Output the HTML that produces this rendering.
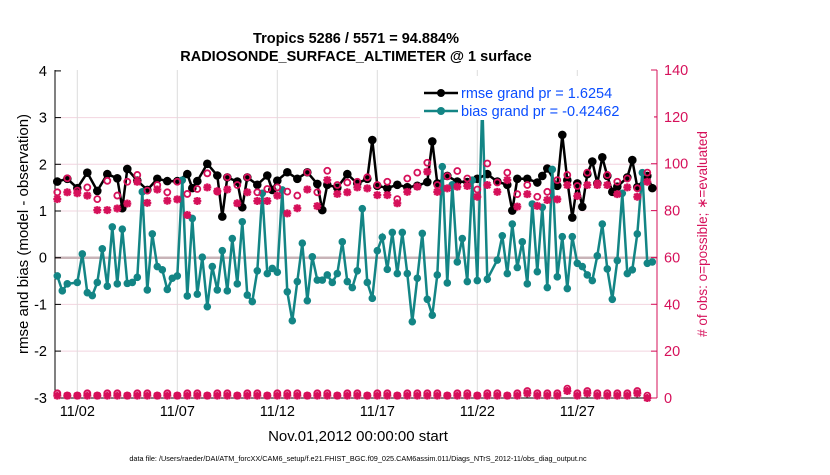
<!DOCTYPE html>
<html><head><meta charset="utf-8"><style>
body{margin:0;background:#fff;width:830px;height:470px;overflow:hidden;font-family:"Liberation Sans",sans-serif}
svg text{font-family:"Liberation Sans",sans-serif}
</style></head><body>
<svg id="chart" width="830" height="470" xmlns="http://www.w3.org/2000/svg">
<text x="356" y="43" text-anchor="middle" font-size="14.5" font-weight="bold">Tropics 5286 / 5571 = 94.884%</text>
<text x="356" y="61" text-anchor="middle" font-size="14.5" font-weight="bold">RADIOSONDE_SURFACE_ALTIMETER @ 1 surface</text>
<text transform="translate(28,234) rotate(-90)" text-anchor="middle" font-size="15">rmse and bias (model - observation)</text>
<text transform="translate(707,234) rotate(-90)" text-anchor="middle" font-size="13.5" fill="#d6105a"># of obs: o=possible; ∗=evaluated</text>
<text x="358" y="441" text-anchor="middle" font-size="15">Nov.01,2012 00:00:00 start</text>
<text x="358" y="461" text-anchor="middle" font-size="7.3">data file: /Users/raeder/DAI/ATM_forcXX/CAM6_setup/f.e21.FHIST_BGC.f09_025.CAM6assim.011/Diags_NTrS_2012-11/obs_diag_output.nc</text>
<g id="grid"></g><g id="axes"></g><g id="series"></g><g id="legend"></g>
</svg>
<script>
const days=[2,7,12,17,22,27];
const dayLabels=["11/02","11/07","11/12","11/17","11/22","11/27"];
const leftTicks=[4,3,2,1,0,-1,-2,-3];
const rightTicks=[0,20,40,60,80,100,120,140];
const N=null;
const bias=[-0.39,-0.71,-0.56,N,-0.53,0.08,-0.75,-0.81,-0.53,0.19,-0.61,0.66,-0.56,0.61,-0.55,-0.53,-0.42,1.41,-0.69,0.51,
-0.19,-0.26,-0.68,-0.44,-0.39,1.66,-0.82,0.84,-0.78,0.01,-1.05,-0.19,-0.69,0.15,-0.71,0.41,-0.56,0.77,-0.8,-0.94,
-0.28,1.38,-0.34,-0.23,-0.31,1.45,-0.73,-1.35,-0.51,0.31,-0.92,0.02,-0.48,-0.48,-0.37,-0.53,-0.34,0.34,-0.51,-0.64,
-0.28,1.05,-0.53,-0.87,0.15,0.44,-0.25,0.54,-0.34,0.54,-0.34,-1.37,-0.44,0.52,-0.89,-1.23,-0.37,1.95,-0.54,1.56,
-0.09,0.41,-0.51,1.66,-0.49,3.34,-0.46,N,-0.05,0.47,-0.34,0.72,-0.21,0.34,-0.56,1.15,-0.3,1.08,-0.64,1.89,
-0.41,0.45,-0.66,0.45,-0.12,-0.19,-0.37,-0.49,0.04,0.72,-0.24,-0.89,-0.06,1.38,-0.34,-0.26,0.51,1.82,-0.12,-0.09];
const rmse=[1.63,N,1.69,N,1.49,N,1.82,N,1.43,N,1.79,N,1.7,1.06,1.9,N,1.65,N,1.45,N,
1.69,N,1.64,N,1.64,N,1.79,1.49,1.64,N,2.01,N,1.76,0.88,1.72,N,1.63,1.08,1.72,N,
1.56,N,1.76,1.45,1.65,N,1.83,N,1.69,N,1.83,N,1.58,1.02,1.56,N,1.5,N,1.79,N,
1.59,N,1.69,2.52,1.54,N,1.49,N,1.56,N,1.51,N,1.54,N,1.62,2.49,1.59,N,1.75,N,
1.63,N,1.62,N,1.69,N,1.79,N,1.63,N,1.56,1.01,1.69,N,1.69,N,1.61,1.75,1.91,N,
1.54,2.63,1.66,0.86,1.59,1.09,1.79,2.06,1.59,2.15,1.75,1.41,1.52,N,1.72,2.09,1.51,N,1.75,1.49];
const possible=[87.8,93.8,88.5,89.9,84.9,92.7,86.4,92.3,95.2,88.5,90.9,87.8,92.3,87.1,89.2,95.9,88.1,94.2,90.9,94.2,
87.8,89.2,89.9,88.1,86.4,96.3,87.8,97,90.9,92,92.3,94.2,90.9,92.3,84.9,93.7,96.2,100.4,90.9,94.7,
96.9,93.7,89,100.1,92,96.2,87,90.9,85.9,88,93,95.2,90.5,96.2,91.6,95.2,92.3,93.7,89.5,96.2];
const evaluated=[84.9,87.8,87.4,86.4,80.2,80.2,80.9,83,92.3,83.3,89,84.2,84.8,78.1,84.1,89.9,88.3,89,83.1,87.8,
84.1,84.1,86.4,78.8,81,89,81.9,93,87.1,87.8,89.9,89.5,86.6,86.6,83.1,88,90.2,96.6,88,89.5,
90.2,90.5,85.9,90.9,88,93,81.7,87,82,84.5,84.8,90.9,86.2,90.9,90.9,90.9,87,89.9,85.9,92.3];
const lowPossible=[2,1,1,2,1,2,2,1,2,2,1,2,1,2,2,1,2,2,1,2,2,1,2,2,2,1,2,2,1,2,2,1,2,2,1,2,2,2,2,1,2,2,1,2,2,1,2,3,2,2,2,4,2,3,2,2,2,2,3,1];
const lowEvaluated=[1,1,1,1,1,1,1,1,1,1,1,1,1,1,1,1,1,1,1,1,1,1,1,1,1,1,1,1,1,1,1,1,1,1,1,1,1,1,1,1,1,1,1,1,1,1,1,2,1,1,1,3,1,2,1,1,1,1,2,0];

const X0=55,X1=657,YT=70,YB=398;
const dayX=d=>57.3+20*(d-1);
const ix=i=>57.3+5*i;
const yL=v=>257.7-v*46.7;
const yR=v=>YB-v*(YB-YT)/140;
const NS="http://www.w3.org/2000/svg";
function mk(parent,tag,attrs){const e=document.createElementNS(NS,tag);for(const k in attrs)e.setAttribute(k,attrs[k]);document.getElementById(parent).appendChild(e);return e;}

// grid
leftTicks.forEach(t=>{if(t===0||t===4||t===-3)return;const g=mk('grid','line',{x1:X0,x2:X1,y1:yL(t),y2:yL(t),stroke:'#f2d4df','stroke-width':1});

});
days.forEach(d=>{const g=mk('grid','line',{x1:dayX(d),x2:dayX(d),y1:YT,y2:YB,stroke:'#dcdcdc','stroke-width':1});

});
const z=mk('grid','line',{x1:X0,x2:X1,y1:yL(0),y2:yL(0),stroke:'#c8b4b8','stroke-width':2.5});



// axes
let a=mk('axes','line',{x1:X0,x2:X0,y1:YT,y2:YB,stroke:'#000','stroke-width':1});


a=mk('axes','line',{x1:X0,x2:X1,y1:YB,y2:YB,stroke:'#000','stroke-width':1});


a=mk('axes','line',{x1:X1,x2:X1,y1:YT,y2:YB,stroke:'#d6105a','stroke-width':1});


leftTicks.forEach(t=>{const y=yL(t);
 const l=mk('axes','line',{x1:X0,x2:X0+6,y1:y,y2:y,stroke:'#000'});
 const tx=mk('axes','text',{x:X0-8,y:y+5,'text-anchor':'end','font-size':14.5});tx.textContent=t;
 
 });
rightTicks.forEach(t=>{const y=yR(t);
 const l=mk('axes','line',{x1:X1-6,x2:X1,y1:y,y2:y,stroke:'#d6105a'});
 const tx=mk('axes','text',{x:X1+7,y:y+5,'font-size':14.5,fill:'#d6105a'});tx.textContent=t;
 
 });
days.forEach((d,k)=>{const x=dayX(d);
 const l=mk('axes','line',{x1:x,x2:x,y1:YB-6,y2:YB,stroke:'#000'});
 const tx=mk('axes','text',{x:x,y:YB+18,'text-anchor':'middle','font-size':14.5});tx.textContent=dayLabels[k];
 
 });

// series
function linePath(arr,fx,fy){let d='';arr.forEach((v,i)=>{if(v===null)return;d+=(d?'L':'M')+fx(i).toFixed(1)+','+fy(v).toFixed(1);});return d;}
let p=mk('series','path',{d:linePath(rmse,ix,yL),fill:'none',stroke:'#000','stroke-width':2.5});


rmse.forEach((v,i)=>{if(v===null)return;const c=mk('series','circle',{cx:ix(i),cy:yL(v),r:4.3,fill:'#000'});

});
p=mk('series','path',{d:linePath(bias,ix,yL),fill:'none',stroke:'#138585','stroke-width':2.5});


bias.forEach((v,i)=>{if(v===null)return;const c=mk('series','circle',{cx:ix(i),cy:yL(v),r:3.8,fill:'#138585'});

});
function star(x,y,name){const g=mk('series','path',{d:`M${x-4},${y}H${x+4}M${x},${y-4}V${y+4}M${x-3},${y-3}L${x+3},${y+3}M${x-3},${y+3}L${x+3},${y-3}`,stroke:'#d6105a','stroke-width':2.3});

}
const px=i=>ix(2*i);
possible.forEach((v,i)=>{const c=mk('series','circle',{cx:px(i),cy:yR(v),r:3,fill:'none',stroke:'#d6105a','stroke-width':1.8});

});
evaluated.forEach((v,i)=>star(px(i),yR(v),'evaluated-obs-marker'));
lowPossible.forEach((v,i)=>{const c=mk('series','circle',{cx:px(i),cy:yR(v),r:3,fill:'none',stroke:'#d6105a','stroke-width':1.8});

});
lowEvaluated.forEach((v,i)=>star(px(i),yR(v),'low-evaluated-obs-marker'));

// legend
const lg=document.getElementById('legend');
let r=mk('legend','rect',{x:420,y:76,width:234,height:44,fill:'#fff'});


[[93,'#000','rmse grand pr = 1.6254','legend-entry-rmse'],[111,'#138585','bias grand pr = -0.42462','legend-entry-bias']].forEach(e=>{
 const l=mk('legend','line',{x1:424,x2:458,y1:e[0],y2:e[0],stroke:e[1],'stroke-width':2.5});
 
 
 const c=mk('legend','circle',{cx:441,cy:e[0],r:4,fill:e[1]});
 
 
 const t=mk('legend','text',{x:461,y:e[0]+5,'font-size':14.5,fill:'#0a4dff'});t.textContent=e[2];
 
 
});
</script>
</body></html>
